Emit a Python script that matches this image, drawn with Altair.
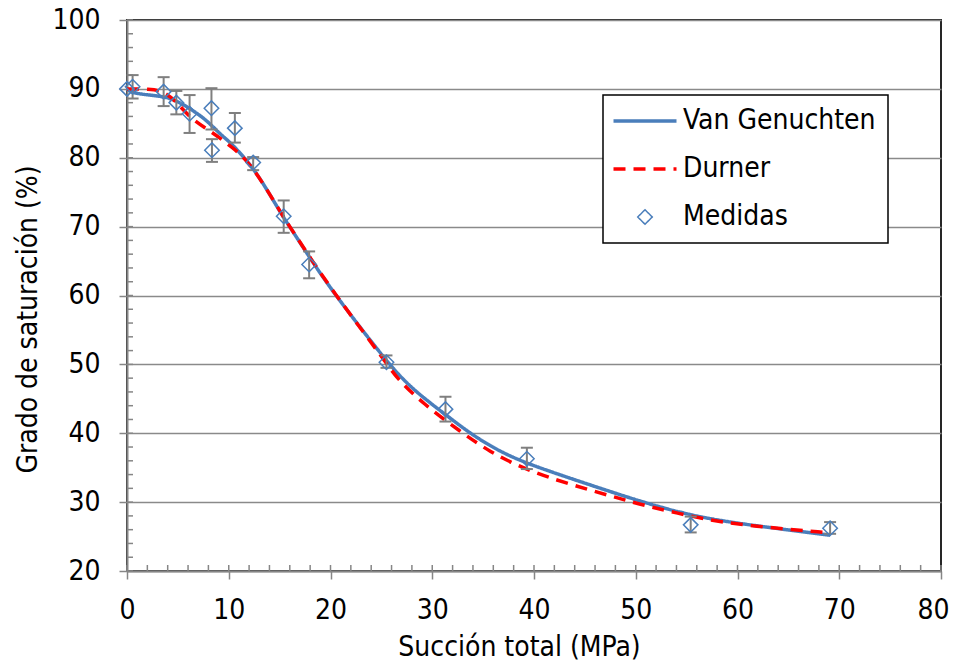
import altair as alt
import pandas as pd
import numpy as np

FONT = "DejaVu Sans Condensed"

# Medidas (measured) with error bars
meas_x = [0.0, 0.55, 3.6, 4.85, 6.15, 8.3, 8.35, 10.6, 12.4, 15.4, 17.9, 25.5, 31.3, 39.3, 55.4, 69.1]
meas_y = [90.0, 90.3, 89.6, 88.0, 86.4, 87.2, 81.1, 84.3, 79.3, 71.5, 64.5, 50.3, 43.5, 36.3, 26.7, 26.2]
err_lo = [np.nan, 88.6, 87.5, 86.3, 83.6, 84.1, 79.4, 82.2, 78.2, 69.1, 62.5, 49.5, 41.7, 34.8, 25.6, 25.4]
err_hi = [np.nan, 92.0, 91.7, 89.7, 89.1, 90.1, 82.7, 86.5, 80.1, 73.8, 66.4, 51.3, 45.3, 37.9, 27.9, 27.1]

# Van Genuchten fitted curve
vg_x = [0, 0.6, 3.5, 4.7, 6.15, 7.8, 9.1, 10.1, 11.56, 13.04, 15.33, 16.0, 18.3, 20.5,
        25.66, 28.1, 31.4, 33.7, 36.3, 39.26, 44.5, 50.4, 55.3, 59.9, 69.1]
vg_y = [90.0, 89.3, 88.95, 88.4, 87.2, 85.5, 83.5, 82.3, 80.0, 77.2, 71.4, 70.0, 64.7, 60.0,
        50.1, 46.3, 42.6, 40.0, 37.6, 35.6, 33.0, 30.1, 28.1, 26.9, 25.2]

# Durner fitted curve
du_x = [0, 2.2, 3.5, 4.7, 6.3, 8.3, 10.26, 12.2, 15.33, 16.0, 18.3, 20.5, 25.5, 26.5, 29.1,
        32.7, 35.65, 38.9, 43.2, 47.8, 50.1, 54.0, 58.6, 63.8, 68.7]
du_y = [90.0, 90.0, 89.7, 88.4, 85.6, 83.8, 81.6, 79.2, 71.5, 70.0, 64.8, 60.1, 50.2, 48.0, 44.3,
        40.3, 37.3, 34.9, 32.7, 30.8, 29.8, 28.4, 27.0, 26.2, 25.6]

series = ["Van Genuchten", "Durner", "Medidas"]
x_major = list(range(0, 81, 10))
y_major = list(range(20, 101, 10))
x_minor = list(range(0, 81, 2))
y_minor = list(range(20, 101, 2))

BLUE = "#4a7ebb"
RED = "#ff0000"
GRAY = "#868686"
EGRAY = "#7f7f7f"

meas = pd.DataFrame({"x": meas_x, "y": meas_y, "lo": err_lo, "hi": err_hi, "serie": "Medidas"})
vg = pd.DataFrame({"x": vg_x, "y": vg_y, "serie": "Van Genuchten"})
du = pd.DataFrame({"x": du_x, "y": du_y, "serie": "Durner"})
xmin_df = pd.DataFrame({"v": x_minor})
ymin_df = pd.DataFrame({"v": y_minor})

xs = alt.Scale(domain=[0, 80], nice=False, zero=False)
ys = alt.Scale(domain=[20, 100], nice=False, zero=False)

color = alt.Color("serie:N", scale=alt.Scale(domain=series, range=[BLUE, RED, BLUE]),
                  legend=alt.Legend(title=None))
dash = alt.StrokeDash("serie:N", scale=alt.Scale(domain=series, range=[[1, 0], [12, 8], [1, 0]]),
                      legend=alt.Legend(title=None))

x_axis = alt.Axis(values=x_major, grid=False, tickSize=8, tickWidth=1.5, tickColor=GRAY,
                  domainColor=GRAY, domainWidth=2, labelFont=FONT, labelFontSize=28,
                  labelColor="black", labelBaseline="alphabetic", labelPadding=39,
                  labelFlush=False, labelOverlap=False,
                  labelOffset={"condition": {"test": "datum.value == 80", "value": -8}, "value": 0},
                  title="Succión total (MPa)", titleFont=FONT, titleFontSize=28,
                  titleFontWeight="normal", titleColor="black", titleX=392, titleY=84,
                  titleAlign="center", titleBaseline="alphabetic", titleAngle=0)
y_axis = alt.Axis(values=y_major, grid=True, gridColor="#8a8a8a", gridWidth=1.5,
                  tickSize=8, tickWidth=1.5, tickColor=GRAY, domainColor=GRAY, domainWidth=2,
                  labelFont=FONT, labelFontSize=28, labelColor="black", labelPadding=19,
                  labelFlush=False, labelOverlap=False,
                  title="Grado de saturación (%)", titleFont=FONT, titleFontSize=28,
                  titleFontWeight="normal", titleColor="black", titleX=-91, titleY=299,
                  titleAlign="center", titleBaseline="alphabetic", titleAngle=270)

vg_line = alt.Chart(vg).mark_line(strokeWidth=3.5, interpolate="basis").encode(
    x=alt.X("x:Q", scale=xs, axis=x_axis),
    y=alt.Y("y:Q", scale=ys, axis=y_axis),
    color=color, strokeDash=dash,
)
du_line = alt.Chart(du).mark_line(strokeWidth=3.5, interpolate="basis").encode(
    x=alt.X("x:Q"),
    y=alt.Y("y:Q"),
    color=color, strokeDash=dash,
)
err_rule = alt.Chart(meas).transform_filter("isValid(datum.lo)").mark_rule(
    color=EGRAY, strokeWidth=2).encode(
    x=alt.X("x:Q"),
    y=alt.Y("lo:Q"),
    y2="hi:Q",
)
err_lo_tick = alt.Chart(meas).transform_filter("isValid(datum.lo)").mark_tick(
    color=EGRAY, orient="horizontal", size=12, thickness=2, opacity=1).encode(
    x=alt.X("x:Q"),
    y=alt.Y("lo:Q"),
)
err_hi_tick = alt.Chart(meas).transform_filter("isValid(datum.lo)").mark_tick(
    color=EGRAY, orient="horizontal", size=12, thickness=2, opacity=1).encode(
    x=alt.X("x:Q"),
    y=alt.Y("hi:Q"),
)
points = alt.Chart(meas).mark_point(filled=False, opacity=1).encode(
    x=alt.X("x:Q"),
    y=alt.Y("y:Q"),
    color=color,
    shape=alt.Shape("serie:N", scale=alt.Scale(domain=series,
                    range=["M-3,0H3", "M-3,0H3", "diamond"]), legend=alt.Legend(title=None)),
    size=alt.Size("serie:N", scale=alt.Scale(type="ordinal", domain=series, range=[441, 441, 210]),
                  legend=alt.Legend(title=None)),
    strokeWidth=alt.StrokeWidth("serie:N", scale=alt.Scale(type="ordinal", domain=series,
                                range=[3.5, 3.5, 1.5]), legend=alt.Legend(title=None)),
)

# minor (inward) ticks along the axes
x_minor_ticks = alt.Chart(xmin_df).mark_tick(
    color=GRAY, orient="vertical", size=6, thickness=1.5, opacity=1, yOffset=-3).encode(
    x=alt.X("v:Q"),
    y=alt.datum(20),
)
y_minor_ticks = alt.Chart(ymin_df).mark_tick(
    color=GRAY, orient="horizontal", size=6, thickness=1.5, opacity=1, xOffset=3).encode(
    x=alt.datum(0),
    y=alt.Y("v:Q"),
)

chart = alt.layer(
    vg_line, x_minor_ticks, y_minor_ticks, du_line, err_rule, err_lo_tick, err_hi_tick, points
).properties(
    width=814, height=551,
    autosize=alt.AutoSizeParams(type="none"),
    padding={"left": 119, "top": 12, "right": 9, "bottom": 92},
).configure_view(
    stroke="#262626", strokeWidth=2
).configure_legend(
    orient="none", legendX=476, legendY=75, padding=12,
    strokeColor="black", strokeWidth=1.5, fillColor="white",
    labelFont=FONT, labelFontSize=28, labelColor="black", labelOffset=24, labelLimit=0,
    symbolOffset=16, rowPadding=20,
)

chart.save("out.html", embed_options={"renderer": "svg", "actions": False})
